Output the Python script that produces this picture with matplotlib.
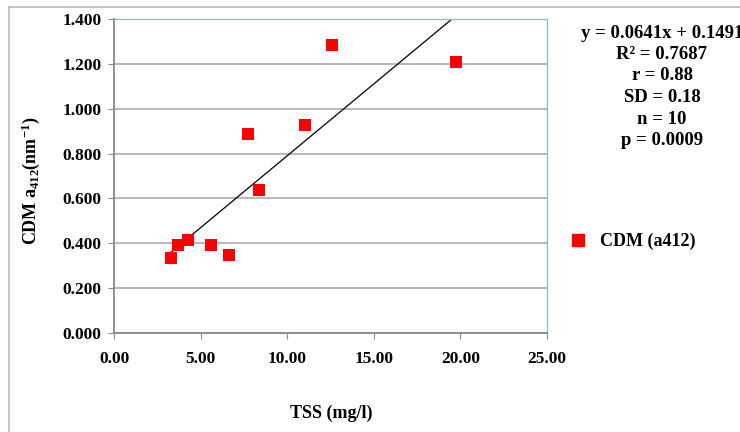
import matplotlib.pyplot as plt
from matplotlib.lines import Line2D

plt.rcParams['font.family'] = ['Liberation Serif', 'DejaVu Serif']
plt.rcParams['font.weight'] = 'bold'
plt.rcParams['mathtext.fontset'] = 'custom'
plt.rcParams['mathtext.rm'] = 'Liberation Serif:bold'
plt.rcParams['mathtext.it'] = 'Liberation Serif:bold'
plt.rcParams['mathtext.bf'] = 'Liberation Serif:bold'

# data
tss = [3.30, 3.70, 4.28, 5.61, 6.65, 7.75, 8.39, 11.00, 12.56, 19.73]
cdm = [0.334, 0.392, 0.415, 0.392, 0.348, 0.887, 0.638, 0.927, 1.284, 1.208]
slope, intercept = 0.0641, 0.1491
stats_lines = ['y = 0.0641x + 0.1491', 'R\u00b2 = 0.7687', 'r = 0.88',
               'SD = 0.18', 'n = 10', 'p = 0.0009']
xticks = [0, 5, 10, 15, 20, 25]
yticks = [0, 0.2, 0.4, 0.6, 0.8, 1.0, 1.2, 1.4]

W, H = 740, 432
fig = plt.figure(figsize=(7.4, 4.32), dpi=100)

# outer chart border (top and left visible)
fig.add_artist(Line2D([9 / W, 9 / W], [0, 1 - 7 / H], color='#bbbbbb', lw=1.2))
fig.add_artist(Line2D([9 / W, 1], [1 - 7 / H, 1 - 7 / H], color='#bbbbbb', lw=1.2))

ax = fig.add_axes([114 / W, 1 - 333 / H, 433 / W, 314 / H])
ax.set_xlim(0, 25)
ax.set_ylim(0, 1.4)

ax.scatter(tss, cdm, marker='s', s=78, color='#ff0000', zorder=3, linewidths=0)
x0, x1 = min(tss), max(tss)
ax.plot([x0, x1], [slope * x0 + intercept, slope * x1 + intercept],
        color='black', lw=0.9, zorder=2)

ax.set_xticks(xticks)
ax.set_xticklabels(['%.2f' % v for v in xticks])
ax.set_yticks(yticks)
ax.set_yticklabels(['%.3f' % v for v in yticks])
ax.tick_params(axis='both', labelsize=12.5, length=4, color='#888888', direction='out')
ax.tick_params(axis='x', pad=9)
ax.tick_params(axis='y', pad=5)
ax.grid(axis='y', color='#a6a6a6', lw=1.1)
ax.set_axisbelow(True)
for s in ['left', 'bottom']:
    ax.spines[s].set_color('#888888')
    ax.spines[s].set_linewidth(1.3)
for s in ['top', 'right']:
    ax.spines[s].set_color('#95b3d7')
    ax.spines[s].set_linewidth(0.9)

fig.text(31 / W, 1 - 181 / H, 'CDM a$_{412}$(nm$^{-1}$)', rotation=90,
         ha='center', va='center', fontsize=13)
fig.text(331 / W, 1 - 413 / H, 'TSS (mg/l)', ha='center', va='center', fontsize=13)

for i, line in enumerate(stats_lines):
    fig.text(662 / W, 1 - (33 + 21.5 * i) / H, line, ha='center', va='center',
             fontsize=13.5)

# legend
fig.add_artist(Line2D([578 / W], [1 - 240 / H], marker='s', markersize=8,
                      color='#ff0000', lw=0))
fig.text(600 / W, 1 - 241 / H, 'CDM (a412)', ha='left', va='center', fontsize=13)

fig.savefig('out.png', dpi=100)
